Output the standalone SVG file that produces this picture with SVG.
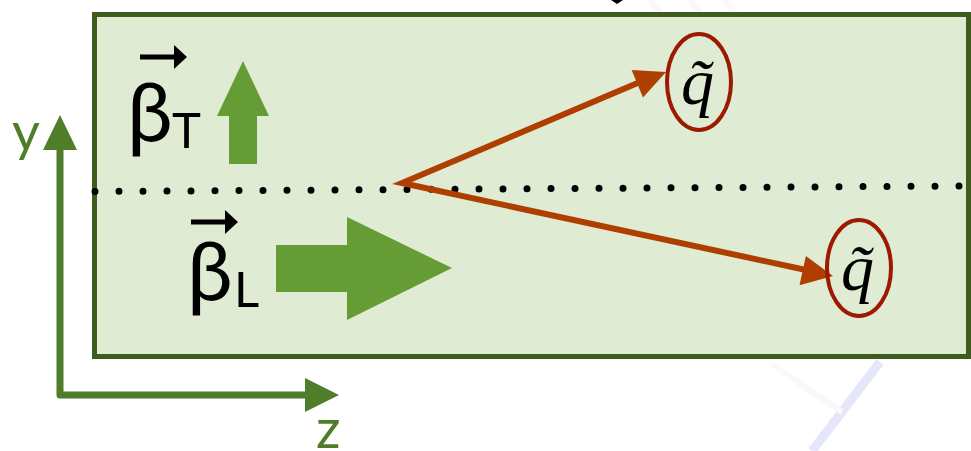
<svg xmlns="http://www.w3.org/2000/svg" width="971" height="451" viewBox="0 0 971 451">
  <defs>
    <style>
      .axis { stroke: #507d2a; stroke-width: 7; fill: none; stroke-linejoin: round; }
      .axis-head { fill: #507d2a; }
      .axis-label { font-family: Lato, "Open Sans", sans-serif; font-size: 54px; fill: #507d2a; }
      .beta { font-family: Lato, "Open Sans", sans-serif; font-size: 82px; fill: #000; }
      .sub { font-family: Lato, "Open Sans", sans-serif; font-size: 49px; fill: #000; }
      .vec { stroke: #000; stroke-width: 5; fill: none; }
      .vec-head { fill: #000; }
      .boost { fill: #669c36; }
      .track { stroke: #ae3f00; stroke-width: 6; fill: none; }
      .track-head { fill: #ae3f00; }
      .squark-ring { fill: none; stroke: #9c1a00; stroke-width: 4; }
      .squark { font-family: "Liberation Serif", "DejaVu Serif", serif; font-style: italic; font-size: 66px; fill: #000; }
    </style>
  </defs>

  <!-- faint background marks -->
  <g id="background">
    <line x1="880" y1="362" x2="812" y2="451" stroke="#e6e6fa" stroke-width="9"/>
    <line x1="772" y1="364" x2="842" y2="412" stroke="#f9f9fb" stroke-width="6"/>
    <line x1="650" y1="0" x2="660" y2="12" stroke="#fef7f7" stroke-width="7"/>
    <line x1="690" y1="0" x2="700" y2="12" stroke="#fef7f7" stroke-width="7"/>
    <line x1="725" y1="0" x2="735" y2="12" stroke="#fef7f7" stroke-width="7"/>
    <polygon points="611,0 623,0 617,4" fill="#000"/>
  </g>

  <!-- beam region -->
  <g id="region">
    <rect x="94.5" y="14.5" width="874" height="342" fill="#e0ebd4" stroke="#3d5c1e" stroke-width="5"/>
  </g>

  <!-- beam axis (dotted) -->
  <g id="beam-axis">
    <line x1="95" y1="191.5" x2="959" y2="186" stroke="#000" stroke-width="7" stroke-linecap="round" stroke-dasharray="0 24"/>
  </g>

  <!-- coordinate axes -->
  <g id="axes">
    <polyline class="axis" points="60,140 60,395 310,395"/>
    <polygon class="axis-head" points="60,115 77,150 43,150"/>
    <polygon class="axis-head" points="339,395 305,378 305,412"/>
    <text class="axis-label" x="12" y="151">y</text>
    <text class="axis-label" x="316" y="448">z</text>
  </g>

  <!-- transverse boost -->
  <g id="beta-T">
    <line class="vec" x1="140" y1="57" x2="176" y2="57"/>
    <polygon class="vec-head" points="187,57 174,45 174,69"/>
    <text><tspan class="beta" x="127" y="141">β</tspan><tspan class="sub" x="172" y="148">T</tspan></text>
    <polygon class="boost" points="243,61 269,116 257,116 257,164 229,164 229,116 217,116"/>
  </g>

  <!-- longitudinal boost -->
  <g id="beta-L">
    <line class="vec" x1="191" y1="222" x2="227" y2="222"/>
    <polygon class="vec-head" points="238,222 225,210 225,234"/>
    <text><tspan class="beta" x="187" y="300">β</tspan><tspan class="sub" x="234" y="307">L</tspan></text>
    <polygon class="boost" points="276,245 347,245 347,217 452,268 347,320 347,292 276,292"/>
  </g>

  <!-- decay products -->
  <g id="connectors">
    <polyline class="track" points="640,82 402,183 806,270" stroke-linejoin="miter"/>
    <polygon class="track-head" points="666,72 643,97.5 631.6,69.9"/>
    <polygon class="track-head" points="833,276 799.5,285.3 805.9,255.9"/>
  </g>

  <g id="squark-1">
    <ellipse class="squark-ring" cx="699" cy="82" rx="32" ry="48"/>
    <text class="squark" x="681" y="104">q̃</text>
  </g>

  <g id="squark-2">
    <ellipse class="squark-ring" cx="859" cy="268" rx="32" ry="48"/>
    <text class="squark" x="841" y="290">q̃</text>
  </g>
</svg>
